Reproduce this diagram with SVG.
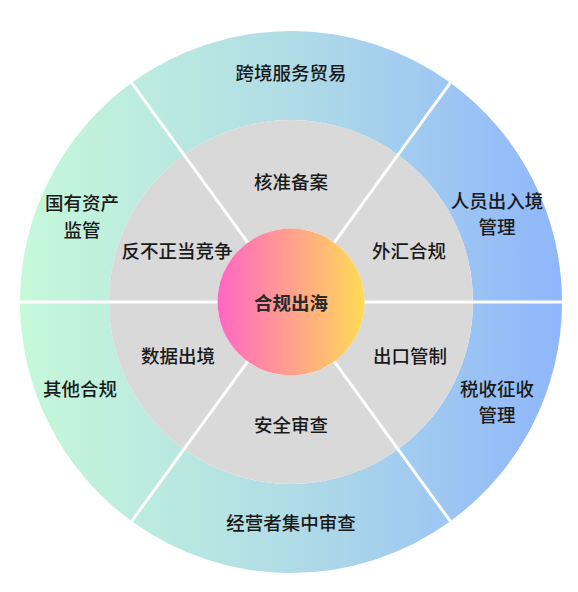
<svg xmlns="http://www.w3.org/2000/svg" width="578" height="592" viewBox="0 0 578 592">
<defs>
<linearGradient id="ring" gradientUnits="userSpaceOnUse" x1="20" y1="0" x2="562" y2="0">
<stop offset="0" stop-color="#c6f8d9"/>
<stop offset="0.5" stop-color="#b0dce6"/>
<stop offset="1" stop-color="#8fb6fb"/>
</linearGradient>
<linearGradient id="core" gradientUnits="userSpaceOnUse" x1="217.5" y1="0" x2="364.5" y2="0">
<stop offset="0" stop-color="#ff66c4"/>
<stop offset="1" stop-color="#ffdb55"/>
</linearGradient>
<style>
.outer{fill:url(#ring);}
.inner{fill:#d9d9d9;}
.sep{stroke:#ffffff;stroke-width:3;fill:none;}
text{font-family:"Noto Sans CJK SC","Noto Sans",sans-serif;font-size:18.5px;fill:#1a1a1a;text-anchor:middle;dominant-baseline:central;font-weight:500;}
.title{font-weight:700;fill:#2a2a2a;}
</style>
</defs>
<rect width="578" height="592" fill="#ffffff"/>
<g id="outer-ring">
<g id="o-top"><path class="outer" d="M131.71 82.76A271 271 0 0 1 450.29 82.76L397.98 154.76A182 182 0 0 0 184.02 154.76Z"/><text x="291" y="72">跨境服务贸易</text></g>
<g id="o-upper-right"><path class="outer" d="M450.29 82.76A271 271 0 0 1 562 302L473 302A182 182 0 0 0 397.98 154.76Z"/><text x="497" y="200">人员出入境</text><text x="497" y="226">管理</text></g>
<g id="o-lower-right"><path class="outer" d="M562 302A271 271 0 0 1 450.29 521.24L397.98 449.24A182 182 0 0 0 473 302Z"/><text x="497" y="388">税收征收</text><text x="497" y="414">管理</text></g>
<g id="o-bottom"><path class="outer" d="M450.29 521.24A271 271 0 0 1 131.71 521.24L184.02 449.24A182 182 0 0 0 397.98 449.24Z"/><text x="291" y="522">经营者集中审查</text></g>
<g id="o-lower-left"><path class="outer" d="M131.71 521.24A271 271 0 0 1 20 302L109 302A182 182 0 0 0 184.02 449.24Z"/><text x="80" y="388">其他合规</text></g>
<g id="o-upper-left"><path class="outer" d="M20 302A271 271 0 0 1 131.71 82.76L184.02 154.76A182 182 0 0 0 109 302Z"/><text x="82" y="202">国有资产</text><text x="82" y="229">监管</text></g>
</g>
<g id="inner-ring">
<g id="i-top"><path class="inner" d="M184.02 154.76A182 182 0 0 1 397.98 154.76L334.2 242.54A73.5 73.5 0 0 0 247.8 242.54Z"/><text x="291" y="181">核准备案</text></g>
<g id="i-upper-right"><path class="inner" d="M397.98 154.76A182 182 0 0 1 473 302L364.5 302A73.5 73.5 0 0 0 334.2 242.54Z"/><text x="409" y="250">外汇合规</text></g>
<g id="i-lower-right"><path class="inner" d="M473 302A182 182 0 0 1 397.98 449.24L334.2 361.46A73.5 73.5 0 0 0 364.5 302Z"/><text x="410" y="355">出口管制</text></g>
<g id="i-bottom"><path class="inner" d="M397.98 449.24A182 182 0 0 1 184.02 449.24L247.8 361.46A73.5 73.5 0 0 0 334.2 361.46Z"/><text x="291" y="424">安全审查</text></g>
<g id="i-lower-left"><path class="inner" d="M184.02 449.24A182 182 0 0 1 109 302L217.5 302A73.5 73.5 0 0 0 247.8 361.46Z"/><text x="178" y="355">数据出境</text></g>
<g id="i-upper-left"><path class="inner" d="M109 302A182 182 0 0 1 184.02 154.76L247.8 242.54A73.5 73.5 0 0 0 217.5 302Z"/><text x="177" y="250">反不正当竞争</text></g>
</g>
<g id="separators">
<line class="sep" x1="20" y1="302" x2="217.5" y2="302"/>
<line class="sep" x1="364.5" y1="302" x2="562" y2="302"/>
<line class="sep" x1="334.2" y1="242.54" x2="450.29" y2="82.76"/>
<line class="sep" x1="247.8" y1="242.54" x2="131.71" y2="82.76"/>
<line class="sep" x1="334.2" y1="361.46" x2="450.29" y2="521.24"/>
<line class="sep" x1="247.8" y1="361.46" x2="131.71" y2="521.24"/>
</g>
<g id="center">
<circle cx="291" cy="302" r="73.5" fill="url(#core)"/>
<text class="title" x="291" y="302">合规出海</text>
</g>
</svg>
